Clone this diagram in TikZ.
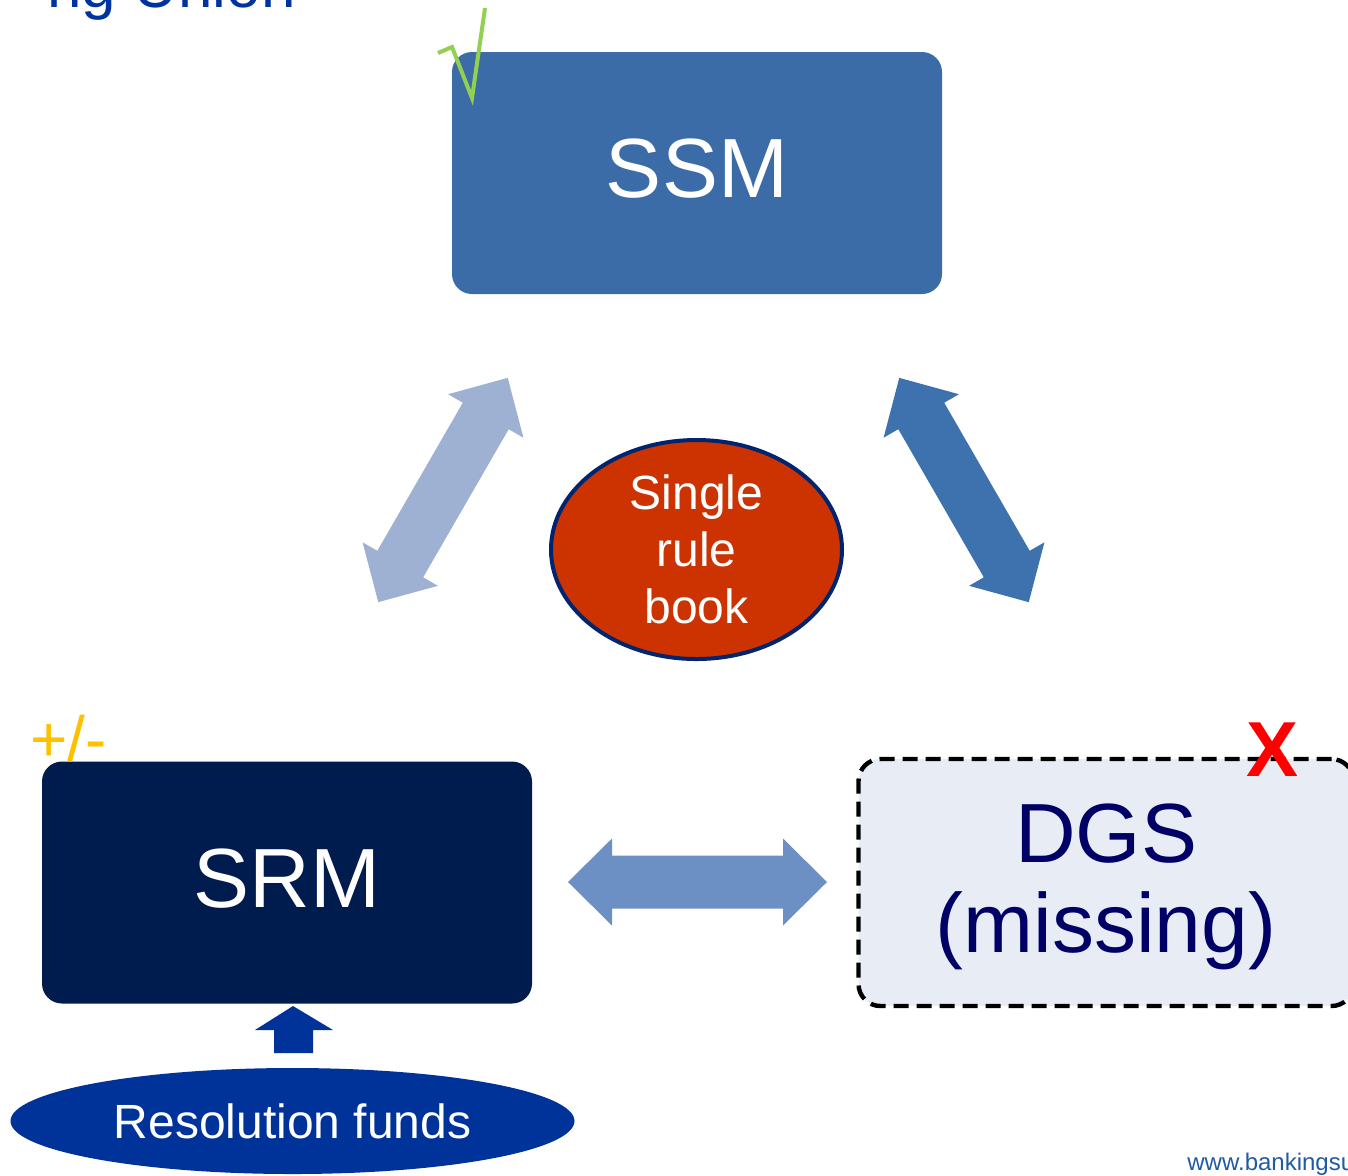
\documentclass[tikz,border=0pt]{standalone}
\usepackage{fontspec}
\setmainfont{Liberation Sans}
\usepackage{xcolor}
\usetikzlibrary{shapes.geometric}

\definecolor{ssmblue}{RGB}{59,108,167}
\definecolor{srmnavy}{RGB}{0,27,78}
\definecolor{dgsfill}{RGB}{232,237,245}
\definecolor{dgstext}{RGB}{0,0,102}
\definecolor{rulered}{RGB}{204,51,0}
\definecolor{ruleedge}{RGB}{0,37,110}
\definecolor{fundblue}{RGB}{0,51,153}
\definecolor{armleft}{RGB}{158,177,211}
\definecolor{armright}{RGB}{62,114,175}
\definecolor{armmid}{RGB}{108,144,195}
\definecolor{tickgreen}{RGB}{146,208,80}
\definecolor{plusyellow}{RGB}{255,192,0}
\definecolor{crossred}{RGB}{255,0,0}
\definecolor{titleblue}{RGB}{0,51,160}
\definecolor{webblue}{RGB}{31,90,166}

\begin{document}
\begin{tikzpicture}[x=0.5pt,y=-0.5pt,
    box/.style={shape=rectangle, rounded corners=10pt, inner sep=0, minimum width=245pt, minimum height=121pt, text=white, font=\fontsize{42}{45}\selectfont},
    solidbox/.style={box, text depth=4.5pt},
    oval/.style={shape=ellipse, inner sep=0, text=white, align=center, font=\fontsize{24}{28.5}\selectfont},
    tag/.style={inner sep=0, anchor=base}]
    \useasboundingbox (0,0) rectangle (1348,1175);
    \clip (0,0) rectangle (1348,1175);

    \node[tag, anchor=base east, text=titleblue, font=\fontsize{31}{36}\selectfont] (title) at (296,7) {ng Union};

    \node[solidbox, fill=ssmblue] (ssm) at (697,173) {SSM};
    \node[solidbox, fill=srmnavy] (srm) at (287,882.5) {SRM};
    \node[solidbox, fill=dgsfill, draw=black, line width=2.2pt, dash pattern=on 7.5pt off 4pt, rounded corners=11pt,
          text=dgstext, align=center, minimum width=247.5pt, minimum height=123.5pt] (dgs) at (1106,882.5) {DGS\\(missing)};

    \node[oval, fill=rulered, draw=ruleedge, line width=2pt, minimum width=145.5pt, minimum height=109.5pt] (rules) at (696.5,549.5) {Single\\rule\\book};
    \node[oval, fill=fundblue, minimum width=282pt, minimum height=53pt] (funds) at (292.5,1121) {Resolution funds};

    % double block arrows
    \foreach \cx/\cy/\ang/\col in {443/490/60/armleft, 964/490/-60/armright, 697.5/882/0/armmid}
      \fill[\col, shift={(\cx,\cy)}, rotate=\ang] (-129.5,0) -- (-85.5,-43.5) -- (-85.5,-26.5) -- (85.5,-26.5) -- (85.5,-43.5)
        -- (129.5,0) -- (85.5,43.5) -- (85.5,26.5) -- (-85.5,26.5) -- (-85.5,43.5) -- cycle;

    \fill[fundblue] (293,1006) -- (333,1030) -- (313,1030) -- (313,1053) -- (274,1053) -- (274,1030) -- (255,1030) -- cycle;

    \draw[tickgreen, line width=2pt] (438,53) -- (452,47) -- (472,98) -- (485,8);
    \node[tag, anchor=base west, text=plusyellow, font=\fontsize{32}{36}\selectfont] (plusminus) at (30,761) {+/-};
    \node[tag, text=crossred, font=\bfseries\fontsize{39}{44}\selectfont] (cross) at (1272,776) {X};

    \node[tag, anchor=base west, text=webblue, font=\fontsize{12}{14}\selectfont] (web) at (1187,1170) {www.bankingsu};
  \end{tikzpicture}
\end{document}
